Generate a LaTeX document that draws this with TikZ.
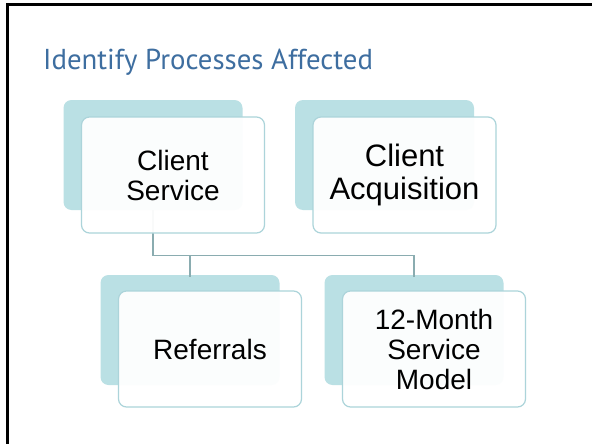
\documentclass[tikz,border=0pt]{standalone}
\usepackage{fontspec}
\setmainfont{Liberation Sans}
\newfontfamily\headfont{PT Sans}
\usetikzlibrary{positioning}

\definecolor{headblue}{RGB}{62,110,160}
\definecolor{tealback}{RGB}{186,224,228}
\definecolor{tealedge}{RGB}{172,212,218}
\definecolor{linkgray}{RGB}{138,172,176}

\tikzset{
  back/.style={rectangle, rounded corners=8pt, fill=tealback, draw=none,
    minimum width=179pt, minimum height=110pt, inner sep=0pt},
  front/.style={rectangle, rounded corners=8pt, draw=tealedge, line width=1.2pt,
    fill=white, fill opacity=0.95, text opacity=1,
    minimum width=183pt, minimum height=116pt, align=center,
    font=\fontsize{28}{30}\selectfont},
  link/.style={draw=linkgray, line width=1.4pt},
}

\begin{document}
\begin{tikzpicture}[x=1pt, y=-1pt]
    \useasboundingbox (0,0) rectangle (592,444);
    \fill[white] (0,0) rectangle (592,444);
    % slide frame, only top and left edges in view
    \draw[line width=2.5pt] (7.5,444) -- (7.5,4.3) -- (592,4.3);

    \node[anchor=base west, text=headblue, inner sep=0pt, font=\headfont\fontsize{28.8}{30}\selectfont] (title) at (43,70) {Identify Processes Affected};

    % back plates
    \node[back] (service back) at (153,155) {};
    \node[back] (acquisition back) at (384.5,155) {};
    \node[back] (referrals back) at (190,330) {};
    \node[back] (model back) at (414,330) {};

    % connectors run under the front plates
    \draw[link] (service back.south) -- ++(0,45) coordinate (split) -| ([yshift=-2pt]referrals back.north);
    \draw[link] (split) -| ([yshift=-2pt]model back.north);

    % front plates
    \node[front] (service) at ([shift={(20,20)}]service back.center) {Client\\Service};
    \node[front, font=\fontsize{31}{33}\selectfont] (acquisition) at ([shift={(20,20)}]acquisition back.center) {Client\\Acquisition};
    \node[front] (referrals) at ([shift={(20,19)}]referrals back.center) {Referrals};
    \node[front] (model) at ([shift={(20,19)}]model back.center) {12-Month\\Service\\Model};
\end{tikzpicture}
\end{document}
